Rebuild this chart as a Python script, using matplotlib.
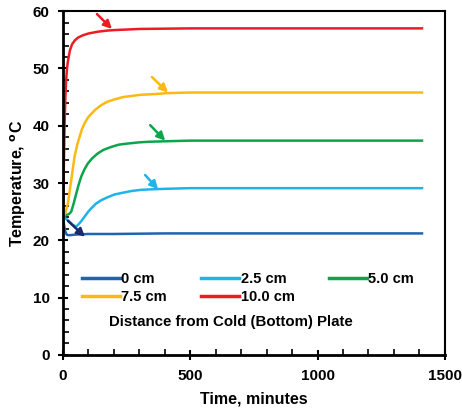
import matplotlib.pyplot as plt
from matplotlib.ticker import MultipleLocator

plt.rcParams['font.family'] = ['Liberation Sans', 'DejaVu Sans']
plt.rcParams['font.weight'] = 'bold'
plt.rcParams['mathtext.default'] = 'bf'

# temperature histories (minutes, deg C) at each height above the cold plate
t_0 = [0, 3, 6, 10, 15, 20, 30, 50, 100, 200, 400, 700, 1000, 1200, 1410]
T_0 = [24.0, 23.3, 22.3, 21.5, 21.0, 20.9, 20.9, 21.0, 21.1, 21.1, 21.2, 21.2, 21.2, 21.2, 21.2]

t_25 = [0, 10, 20, 30, 39, 53, 66, 75, 85, 98, 112, 130, 151, 175, 203, 235, 269, 305, 348,
        413, 500, 700, 1000, 1200, 1410]
T_25 = [24.0, 23.8, 23.5, 23.1, 22.7, 22.4, 23.0, 23.5, 24.1, 24.9, 25.6, 26.4, 27.0, 27.5,
        28.0, 28.3, 28.6, 28.8, 28.9, 29.0, 29.1, 29.1, 29.1, 29.1, 29.1]

t_50 = [0, 13, 25, 33, 43, 53, 62, 72, 85, 98, 115, 138, 160, 190, 220, 256, 300, 335, 413,
        500, 700, 1000, 1200, 1410]
T_50 = [24.0, 24.4, 24.6, 25.0, 26.5, 28.2, 29.7, 31.1, 32.4, 33.4, 34.3, 35.2, 35.8, 36.3,
        36.7, 36.9, 37.1, 37.2, 37.3, 37.4, 37.4, 37.4, 37.4, 37.4]

t_75 = [0, 10, 20, 33, 46, 56, 66, 75, 85, 98, 112, 130, 151, 175, 203, 235, 269, 305, 348,
        413, 500, 700, 1000, 1200, 1410]
T_75 = [24.0, 24.8, 26.5, 30.5, 34.6, 36.6, 38.1, 39.4, 40.4, 41.4, 42.1, 42.9, 43.6, 44.2,
        44.6, 45.0, 45.2, 45.4, 45.5, 45.7, 45.8, 45.8, 45.8, 45.8, 45.8]

t_100 = [0, 2, 4, 6, 8, 10, 13, 16, 20, 28, 36, 47, 60, 79, 100, 134, 170, 200, 250, 300,
         500, 800, 1100, 1410]
T_100 = [24.0, 28.0, 33.0, 38.0, 42.0, 45.0, 48.0, 49.8, 51.3, 53.2, 54.2, 54.9, 55.4, 55.8,
         56.1, 56.4, 56.6, 56.7, 56.8, 56.9, 57.0, 57.0, 57.0, 57.0]

labels = ['0 cm', '2.5 cm', '5.0 cm', '7.5 cm', '10.0 cm']
colors = ['#1e64b0', '#1fb3ec', '#0ca54b', '#fdb913', '#ed1c24']

# arrow tail -> head, pointing at each curve's plateau
arrows = [
    ((20, 23.4), (87, 20.6), '#1a2a6c'),
    ((323, 31.4), (374, 28.9), colors[1]),
    ((343, 40.1), (402, 37.4), colors[2]),
    ((350, 48.5), (413, 45.8), colors[3]),
    ((134, 59.5), (193, 56.9), colors[4]),
]

fig = plt.figure(figsize=(4.62, 4.15), dpi=100)
ax = fig.add_axes([0.136, 0.145, 0.827, 0.828])

series = [(t_0, T_0), (t_25, T_25), (t_50, T_50), (t_75, T_75), (t_100, T_100)]
handles = []
for (t, T), c, lab in zip(series, colors, labels):
    h, = ax.plot(t, T, color=c, lw=1.8, label=lab)
    handles.append(h)

for tail, head, c in arrows:
    ax.annotate('', xy=head, xytext=tail,
                arrowprops=dict(arrowstyle='-|>', color=c, lw=1.8,
                                mutation_scale=12, shrinkA=0, shrinkB=0))

ax.set_xlim(0, 1500)
ax.set_ylim(0, 60)
ax.xaxis.set_major_locator(MultipleLocator(500))
ax.xaxis.set_minor_locator(MultipleLocator(100))
ax.yaxis.set_major_locator(MultipleLocator(10))
ax.yaxis.set_minor_locator(MultipleLocator(2))
ax.tick_params(which='major', direction='inout', length=7, width=1.5, labelsize=11)
ax.tick_params(axis='x', which='major', pad=7)
ax.tick_params(axis='y', which='major', pad=6)
ax.tick_params(which='minor', direction='in', length=4, width=1.2)
for s in ax.spines.values():
    s.set_linewidth(1.5)
ax.spines['left'].set_linewidth(2)
ax.spines['bottom'].set_linewidth(2)

ax.set_xlabel('Time, minutes', fontsize=11.5, fontweight='bold', labelpad=6)
ax.set_ylabel('Temperature, $^{o}$C', fontsize=11.5, fontweight='bold', labelpad=3)

# legend fills column-wise, so order entries to read row-wise
leg_order = [0, 3, 1, 4, 2]
leg = ax.legend(handles=[handles[i] for i in leg_order], ncol=3, loc='upper left',
                bbox_to_anchor=(0.035, 0.258), frameon=False, fontsize=10.5,
                handlelength=2.6, handletextpad=0.1, columnspacing=2.35,
                labelspacing=0.25, borderaxespad=0)
for h in leg.legend_handles:
    h.set_linewidth(2.5)
ax.text(0.44, 0.095, 'Distance from Cold (Bottom) Plate', transform=ax.transAxes,
        ha='center', va='center', fontsize=10.8, fontweight='bold')

fig.savefig('out.png', dpi=100)
